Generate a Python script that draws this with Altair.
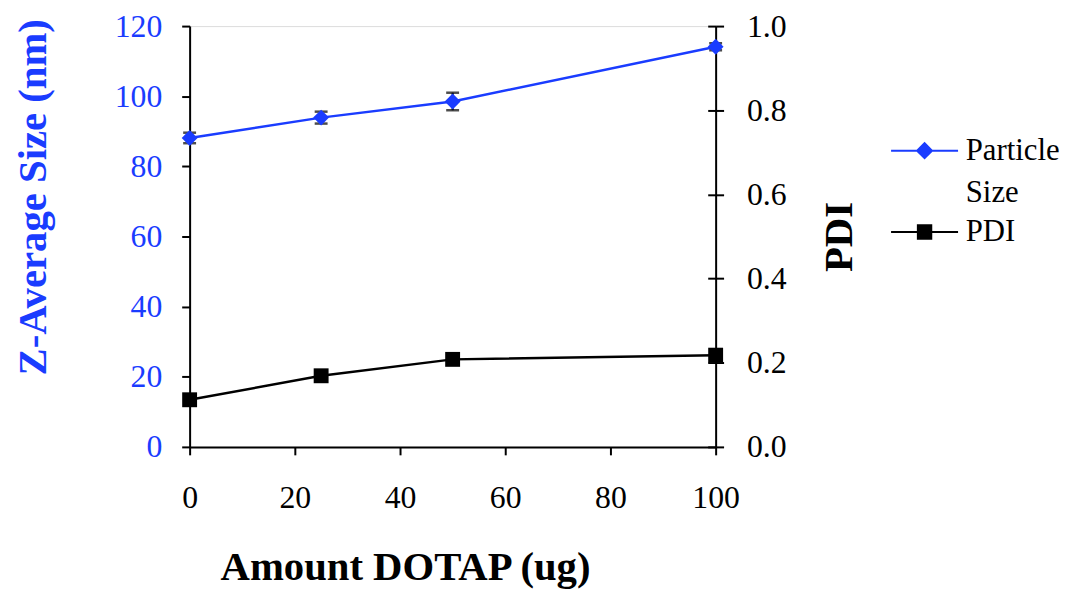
import altair as alt
import pandas as pd

# ---- data ----
doses = [0, 25, 50, 100]
size_nm = [88.1, 93.9, 98.5, 114.1]
size_sd = [1.5, 1.7, 2.5, 1.0]
pdi = [0.112, 0.169, 0.208, 0.218]
series = ["Particle Size", "PDI"]
x_ticks = [0, 20, 40, 60, 80, 100]
size_ticks = [0, 20, 40, 60, 80, 100, 120]
pdi_ticks = [0.0, 0.2, 0.4, 0.6, 0.8, 1.0]

df = pd.DataFrame({"dose": doses, "size": size_nm, "sd": size_sd, "pdi": pdi})
df["lo"] = df["size"] - df["sd"]
df["hi"] = df["size"] + df["sd"]
legend_df = pd.DataFrame({"series": series})

BLUE = "#1a3cff"
FONT = "Liberation Serif"

x_axis = alt.Axis(
    values=x_ticks, title="Amount DOTAP (ug)", grid=False, labelFlush=False,
    domainColor="black", domainWidth=2, tickColor="black", tickWidth=2, tickSize=8,
    labelFont=FONT, labelFontSize=32, labelColor="black", labelPadding=28,
    titleFont=FONT, titleFontSize=41, titleFontWeight="bold", titleColor="black",
    titlePadding=35, titleX=217,
)
x_enc = alt.X("dose:Q", scale=alt.Scale(domain=[0, 100], nice=False), axis=x_axis)

size_axis = alt.Axis(
    values=size_ticks, title="Z-Average Size (nm)", grid=False, orient="left", labelFlush=False,
    domainColor="black", domainWidth=2, tickColor="black", tickWidth=2, tickSize=8,
    labelFont=FONT, labelFontSize=32, labelColor=BLUE, labelPadding=20,
    titleFont=FONT, titleFontSize=41, titleFontWeight="bold", titleColor=BLUE,
    titlePadding=60, titleY=172,
)
size_scale = alt.Scale(domain=[0, 120], nice=False)

pdi_axis = alt.Axis(
    values=pdi_ticks, format=".1f", title="PDI", grid=False, orient="right", labelFlush=False,
    domainColor="black", domainWidth=2, tickColor="black", tickWidth=2, tickSize=8,
    labelFont=FONT, labelFontSize=32, labelColor="black", labelPadding=23,
    titleFont=FONT, titleFontSize=41, titleFontWeight="bold", titleColor="black",
    titlePadding=34, titleAngle=270, titleBaseline="top",
)
pdi_scale = alt.Scale(domain=[0, 1], nice=False)

# inner half of the crossing ticks on the right axis
pdi_inner_axis = alt.Axis(
    values=pdi_ticks, title=None, grid=False, orient="right", offset=-8,
    domain=False, labels=False, tickColor="black", tickWidth=2, tickSize=8,
)

base = alt.Chart(df)

err = base.mark_rule(color="black", strokeWidth=2).encode(
    x=x_enc, y=alt.Y("lo:Q", scale=size_scale, axis=size_axis), y2="hi:Q"
)
cap_lo = base.mark_tick(color="black", thickness=2.5, size=13, orient="horizontal").encode(
    x=x_enc, y=alt.Y("lo:Q", scale=size_scale, axis=size_axis)
)
cap_hi = base.mark_tick(color="black", thickness=2.5, size=13, orient="horizontal").encode(
    x=x_enc, y=alt.Y("hi:Q", scale=size_scale, axis=size_axis)
)
size_line = base.mark_line(color=BLUE, strokeWidth=2.5).encode(
    x=x_enc, y=alt.Y("size:Q", scale=size_scale, axis=size_axis)
)
size_pts = base.mark_point(shape="diamond", filled=True, size=256, color=BLUE, opacity=1).encode(
    x=x_enc, y=alt.Y("size:Q", scale=size_scale, axis=size_axis)
)
left = alt.layer(err, cap_lo, cap_hi, size_line, size_pts)

pdi_line = base.mark_line(color="black", strokeWidth=2.5).encode(
    x=x_enc, y=alt.Y("pdi:Q", scale=pdi_scale, axis=pdi_axis)
)
pdi_pts = base.mark_point(shape="square", filled=True, size=225, color="black", opacity=1).encode(
    x=x_enc, y=alt.Y("pdi:Q", scale=pdi_scale, axis=pdi_axis)
)
right = alt.layer(pdi_line, pdi_pts)

inner_ticks = base.mark_point(opacity=0).encode(
    x=x_enc, y=alt.Y("pdi:Q", scale=pdi_scale, axis=pdi_inner_axis)
)

diamond_sym = "M-4.5,0H4.5M-1,0L0,-1L1,0L0,1Z"
square_sym = "M-4.5,0H4.5M-0.9,-0.9H0.9V0.9H-0.9Z"

leg = alt.Legend(
    title=None, orient="none", legendX=725, legendY=110,
    labelFont=FONT, labelFontSize=31, labelColor="black",
    labelExpr="datum.label == 'Particle Size' ? ['Particle', 'Size'] : datum.label",
    symbolSize=225, symbolStrokeWidth=2, symbolOpacity=1, labelOffset=26,
    rowPadding=7,
)
legend_layer = alt.Chart(legend_df).mark_point(filled=True, opacity=0).encode(
    fill=alt.Fill("series:N", scale=alt.Scale(domain=series, range=[BLUE, "black"]), legend=leg),
    stroke=alt.Stroke("series:N", scale=alt.Scale(domain=series, range=[BLUE, "black"]), legend=leg),
    shape=alt.Shape("series:N", scale=alt.Scale(domain=series, range=[diamond_sym, square_sym]), legend=leg),
)

chart = (
    alt.layer(left, right, inner_ticks, legend_layer)
    .resolve_scale(y="independent")
    .properties(width=530, height=424, background="white",
                padding={"left": 5, "top": 0, "right": 5, "bottom": 5})
    .configure_view(stroke=None)
    .configure(style={"guide-label": {"lineHeight": 43}})
)

chart.save("out.html", embed_options={"renderer": "svg", "actions": False})
